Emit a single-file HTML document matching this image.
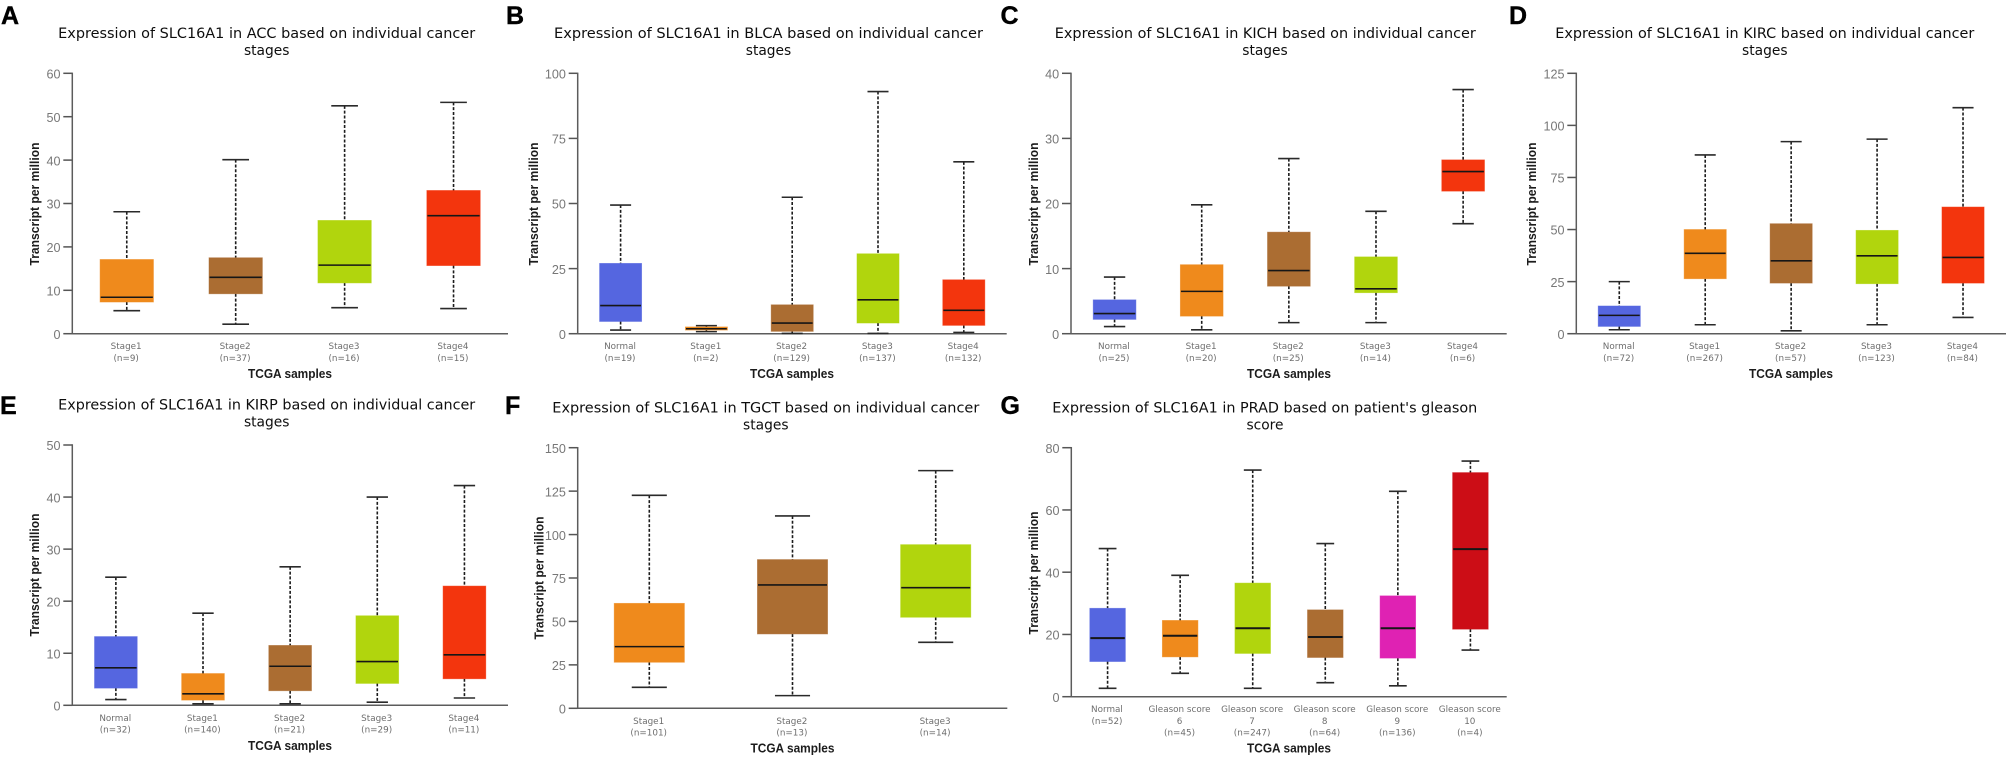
<!DOCTYPE html>
<html lang="en">
<head>
<meta charset="utf-8">
<title>Expression of SLC16A1 across TCGA cancers</title>
<style>
html,body{margin:0;padding:0;background:#fff;width:2008px;height:757px;overflow:hidden}
svg{display:block}
.letter{font:bold 25px "Liberation Sans",sans-serif;fill:#000;stroke:#000;stroke-width:.4}
.title{font:13.8px "DejaVu Sans",sans-serif;fill:#111;text-anchor:middle}
.ytitle{font:bold 13.2px "Liberation Sans",sans-serif;fill:#1a1a1a;text-anchor:middle}
.xtitle{font:bold 13.2px "Liberation Sans",sans-serif;fill:#1a1a1a;text-anchor:middle}
.tick{font:12.6px "Liberation Sans",sans-serif;fill:#777;text-anchor:end}
.cat{font:8.8px "DejaVu Sans",sans-serif;fill:#6e6e6e;text-anchor:middle}
</style>
</head>
<body>
<svg id="figure" xmlns="http://www.w3.org/2000/svg" width="2008" height="757" viewBox="0 0 2008 757" filter="url(#soft)">
<defs><filter id="soft" x="0" y="0" width="100%" height="100%"><feGaussianBlur stdDeviation="0.35"/></filter></defs>
<rect width="2008" height="757" fill="#fff"/>

<g id="panel-a">
<text class="letter" x="1" y="24">A</text>
<text class="title" x="266.7" y="38" textLength="417" lengthAdjust="spacingAndGlyphs">Expression of SLC16A1 in ACC based on individual cancer</text>
<text class="title" x="266.7" y="55">stages</text>
<text class="ytitle" transform="translate(39 204) rotate(-90)" textLength="123" lengthAdjust="spacingAndGlyphs">Transcript per million</text>
<text class="xtitle" x="290" y="378" textLength="84" lengthAdjust="spacingAndGlyphs">TCGA samples</text>
</g>
<g id="panel-b">
<text class="letter" x="506" y="24">B</text>
<text class="title" x="768.5" y="38" textLength="429" lengthAdjust="spacingAndGlyphs">Expression of SLC16A1 in BLCA based on individual cancer</text>
<text class="title" x="768.5" y="55">stages</text>
<text class="ytitle" transform="translate(538 204) rotate(-90)" textLength="123" lengthAdjust="spacingAndGlyphs">Transcript per million</text>
<text class="xtitle" x="792" y="378" textLength="84" lengthAdjust="spacingAndGlyphs">TCGA samples</text>
</g>
<g id="panel-c">
<text class="letter" x="1000.5" y="24">C</text>
<text class="title" x="1265.3" y="38" textLength="421" lengthAdjust="spacingAndGlyphs">Expression of SLC16A1 in KICH based on individual cancer</text>
<text class="title" x="1265" y="55">stages</text>
<text class="ytitle" transform="translate(1038 204) rotate(-90)" textLength="123" lengthAdjust="spacingAndGlyphs">Transcript per million</text>
<text class="xtitle" x="1289" y="378" textLength="84" lengthAdjust="spacingAndGlyphs">TCGA samples</text>
</g>
<g id="panel-d">
<text class="letter" x="1509" y="24">D</text>
<text class="title" x="1764.8" y="38" textLength="419" lengthAdjust="spacingAndGlyphs">Expression of SLC16A1 in KIRC based on individual cancer</text>
<text class="title" x="1764.8" y="55">stages</text>
<text class="ytitle" transform="translate(1536 204) rotate(-90)" textLength="123" lengthAdjust="spacingAndGlyphs">Transcript per million</text>
<text class="xtitle" x="1791" y="378" textLength="84" lengthAdjust="spacingAndGlyphs">TCGA samples</text>
</g>
<g id="panel-e">
<text class="letter" x="0" y="414">E</text>
<text class="title" x="266.7" y="409.7" textLength="417" lengthAdjust="spacingAndGlyphs">Expression of SLC16A1 in KIRP based on individual cancer</text>
<text class="title" x="266.7" y="426.7">stages</text>
<text class="ytitle" transform="translate(39 575) rotate(-90)" textLength="123" lengthAdjust="spacingAndGlyphs">Transcript per million</text>
<text class="xtitle" x="290" y="750" textLength="84" lengthAdjust="spacingAndGlyphs">TCGA samples</text>
</g>
<g id="panel-f">
<text class="letter" x="505" y="414">F</text>
<text class="title" x="765.8" y="412.3" textLength="427" lengthAdjust="spacingAndGlyphs">Expression of SLC16A1 in TGCT based on individual cancer</text>
<text class="title" x="765.8" y="429.5">stages</text>
<text class="ytitle" transform="translate(543.5 578) rotate(-90)" textLength="123" lengthAdjust="spacingAndGlyphs">Transcript per million</text>
<text class="xtitle" x="792.5" y="752.7" textLength="84" lengthAdjust="spacingAndGlyphs">TCGA samples</text>
</g>
<g id="panel-g">
<text class="letter" x="1000.5" y="414">G</text>
<text class="title" x="1264.8" y="412.3" textLength="425" lengthAdjust="spacingAndGlyphs">Expression of SLC16A1 in PRAD based on patient's gleason</text>
<text class="title" x="1265" y="429.5">score</text>
<text class="ytitle" transform="translate(1038 573) rotate(-90)" textLength="123" lengthAdjust="spacingAndGlyphs">Transcript per million</text>
<text class="xtitle" x="1289" y="752.7" textLength="84" lengthAdjust="spacingAndGlyphs">TCGA samples</text>
</g>
</svg>

<script>
// ---- Panel A: ACC ----
const accTicks = [0, 10, 20, 30, 40, 50, 60];
const accCategories = ["Stage1", "Stage2", "Stage3", "Stage4"];
const accCounts = ["(n=9)", "(n=37)", "(n=16)", "(n=15)"];
const accColors = ["#EF8A1D", "#AB6D33", "#B1D50F", "#F3360D"];
const accWhiskerLow = [5.3, 2.2, 6.0, 5.8];
const accQ1 = [7.3, 9.2, 11.7, 15.7];
const accMedian = [8.4, 13.0, 15.8, 27.2];
const accQ3 = [17.1, 17.5, 26.1, 33.0];
const accWhiskerHigh = [28.1, 40.1, 52.5, 53.3];

// ---- Panel B: BLCA ----
const blcaTicks = [0, 25, 50, 75, 100];
const blcaCategories = ["Normal", "Stage1", "Stage2", "Stage3", "Stage4"];
const blcaCounts = ["(n=19)", "(n=2)", "(n=129)", "(n=137)", "(n=132)"];
const blcaColors = ["#5566E0", "#EF8A1D", "#AB6D33", "#B1D50F", "#F3360D"];
const blcaWhiskerLow = [1.4, 0.8, 0.1, 0.1, 0.5];
const blcaQ1 = [4.7, 1.4, 0.9, 4.1, 3.2];
const blcaMedian = [10.8, 1.9, 4.1, 13.0, 9.0];
const blcaQ3 = [27.0, 2.6, 11.1, 30.7, 20.7];
const blcaWhiskerHigh = [49.4, 3.1, 52.4, 93.0, 66.0];

// ---- Panel C: KICH ----
const kichTicks = [0, 10, 20, 30, 40];
const kichCategories = ["Normal", "Stage1", "Stage2", "Stage3", "Stage4"];
const kichCounts = ["(n=25)", "(n=20)", "(n=25)", "(n=14)", "(n=6)"];
const kichColors = ["#5566E0", "#EF8A1D", "#AB6D33", "#B1D50F", "#F3360D"];
const kichWhiskerLow = [1.1, 0.6, 1.7, 1.7, 16.9];
const kichQ1 = [2.2, 2.7, 7.3, 6.3, 21.9];
const kichMedian = [3.1, 6.5, 9.7, 6.9, 24.9];
const kichQ3 = [5.2, 10.6, 15.6, 11.8, 26.7];
const kichWhiskerHigh = [8.7, 19.8, 26.9, 18.8, 37.5];

// ---- Panel D: KIRC ----
const kircTicks = [0, 25, 50, 75, 100, 125];
const kircCategories = ["Normal", "Stage1", "Stage2", "Stage3", "Stage4"];
const kircCounts = ["(n=72)", "(n=267)", "(n=57)", "(n=123)", "(n=84)"];
const kircColors = ["#5566E0", "#EF8A1D", "#AB6D33", "#B1D50F", "#F3360D"];
const kircWhiskerLow = [1.9, 4.3, 1.4, 4.3, 7.8];
const kircQ1 = [3.5, 26.4, 24.3, 24.0, 24.3];
const kircMedian = [8.8, 38.6, 35.0, 37.4, 36.6];
const kircQ3 = [13.3, 50.0, 52.8, 49.6, 60.8];
const kircWhiskerHigh = [25.0, 85.8, 92.2, 93.4, 108.5];

// ---- Panel E: KIRP ----
const kirpTicks = [0, 10, 20, 30, 40, 50];
const kirpCategories = ["Normal", "Stage1", "Stage2", "Stage3", "Stage4"];
const kirpCounts = ["(n=32)", "(n=140)", "(n=21)", "(n=29)", "(n=11)"];
const kirpColors = ["#5566E0", "#EF8A1D", "#AB6D33", "#B1D50F", "#F3360D"];
const kirpWhiskerLow = [1.1, 0.3, 0.3, 0.6, 1.4];
const kirpQ1 = [3.3, 1.0, 2.8, 4.2, 5.1];
const kirpMedian = [7.2, 2.2, 7.5, 8.4, 9.7];
const kirpQ3 = [13.2, 6.1, 11.5, 17.2, 22.9];
const kirpWhiskerHigh = [24.6, 17.7, 26.6, 40.0, 42.2];

// ---- Panel F: TGCT ----
const tgctTicks = [0, 25, 50, 75, 100, 125, 150];
const tgctCategories = ["Stage1", "Stage2", "Stage3"];
const tgctCounts = ["(n=101)", "(n=13)", "(n=14)"];
const tgctColors = ["#EF8A1D", "#AB6D33", "#B1D50F"];
const tgctWhiskerLow = [12.1, 7.3, 38.0];
const tgctQ1 = [26.5, 42.8, 52.4];
const tgctMedian = [35.5, 71.0, 69.4];
const tgctQ3 = [60.4, 85.6, 94.2];
const tgctWhiskerHigh = [122.6, 110.7, 136.8];

// ---- Panel G: PRAD ----
const pradTicks = [0, 20, 40, 60, 80];
const pradCategories = ["Normal", "Gleason score|6", "Gleason score|7", "Gleason score|8", "Gleason score|9", "Gleason score|10"];
const pradCounts = ["(n=52)", "(n=45)", "(n=247)", "(n=64)", "(n=136)", "(n=4)"];
const pradColors = ["#5566E0", "#EF8A1D", "#B1D50F", "#AB6D33", "#DF21B3", "#CC1019"];
const pradWhiskerLow = [2.7, 7.5, 2.7, 4.5, 3.5, 15.0];
const pradQ1 = [11.3, 12.8, 13.9, 12.6, 12.4, 21.7];
const pradMedian = [18.8, 19.6, 22.0, 19.2, 22.0, 47.4];
const pradQ3 = [28.4, 24.5, 36.5, 27.9, 32.4, 72.0];
const pradWhiskerHigh = [47.6, 39.0, 72.8, 49.2, 66.0, 75.7];

const SVGNS = "http://www.w3.org/2000/svg";

function svgEl(tag, attrs, parent) {
  const node = document.createElementNS(SVGNS, tag);
  for (const key in attrs) node.setAttribute(key, attrs[key]);
  parent.appendChild(node);
  return node;
}

function drawPanel(p) {
  const root = document.getElementById(p.id);
  const domainMax = p.ticks[p.ticks.length - 1];
  const yScale = function (v) { return p.y0 + (p.y1 - p.y0) * v / domainMax; };
  const band = (p.x1 - p.x0) / p.categories.length;
  const xScale = function (i) { return p.x0 + band * (i + 0.5); };
  const boxW = band * 0.49;
  const capW = band * 0.245;

  p.ticks.forEach(function (t) {
    const tickMark = svgEl("line", { x1: p.x0 - 9, x2: p.x0, y1: yScale(t), y2: yScale(t), stroke: "#555", "stroke-width": 1.5 }, root);
    
    
    const tickLabel = svgEl("text", { class: "tick", x: p.x0 - 11.8, y: yScale(t) + 5.2 }, root);
    
    
    tickLabel.textContent = String(t);
  });

  const yAxis = svgEl("line", { x1: p.x0, x2: p.x0, y1: p.y1 - 0.7, y2: p.y0 + 0.7, stroke: "#5c5c5c", "stroke-width": 1.5 }, root);
  
  
  const xAxis = svgEl("line", { x1: p.x0, x2: p.x1, y1: p.y0, y2: p.y0, stroke: "#5c5c5c", "stroke-width": 1.5 }, root);
  
  

  p.categories.forEach(function (cat, i) {
    const cx = xScale(i);
    const yq1 = yScale(p.q1[i]);
    const yq3 = yScale(p.q3[i]);
    const ymed = yScale(p.median[i]);
    const ylo = yScale(p.low[i]);
    const yhi = yScale(p.high[i]);

    const upperWhisker = svgEl("line", { x1: cx, x2: cx, y1: yhi, y2: yq3, stroke: "#1a1a1a", "stroke-width": 1.6, "stroke-dasharray": "3 1.8" }, root);
    
    
    const lowerWhisker = svgEl("line", { x1: cx, x2: cx, y1: yq1, y2: ylo, stroke: "#1a1a1a", "stroke-width": 1.6, "stroke-dasharray": "3 1.8" }, root);
    
    
    const upperCap = svgEl("line", { x1: cx - capW / 2, x2: cx + capW / 2, y1: yhi, y2: yhi, stroke: "#2a2a2a", "stroke-width": 1.6 }, root);
    
    
    const lowerCap = svgEl("line", { x1: cx - capW / 2, x2: cx + capW / 2, y1: ylo, y2: ylo, stroke: "#2a2a2a", "stroke-width": 1.6 }, root);
    
    

    const box = svgEl("rect", { x: cx - boxW / 2, y: yq3, width: boxW, height: Math.max(yq1 - yq3, 0.5), fill: p.colors[i], stroke: p.colors[i], "stroke-opacity": 0.6, "stroke-width": 0.8 }, root);
    
    
    const medianLine = svgEl("line", { x1: cx - boxW / 2 + 0.6, x2: cx + boxW / 2 - 0.6, y1: ymed, y2: ymed, stroke: "#141414", "stroke-width": p.medianWidth }, root);
    
    

    const lines = cat.split("|").concat([p.counts[i]]);
    lines.forEach(function (line, k) {
      const catLabel = svgEl("text", { class: "cat", x: cx - 0.6, y: p.y0 + 15.5 + k * 11.6 }, root);
      
      
      catLabel.textContent = line;
    });
  });
}

drawPanel({ id: "panel-a", x0: 72.3, x1: 508, y0: 333.7, y1: 73.3, ticks: accTicks, categories: accCategories, counts: accCounts, colors: accColors, low: accWhiskerLow, q1: accQ1, median: accMedian, q3: accQ3, high: accWhiskerHigh, medianWidth: 1.6 });
drawPanel({ id: "panel-b", x0: 577.7, x1: 1006.7, y0: 333.7, y1: 73.3, ticks: blcaTicks, categories: blcaCategories, counts: blcaCounts, colors: blcaColors, low: blcaWhiskerLow, q1: blcaQ1, median: blcaMedian, q3: blcaQ3, high: blcaWhiskerHigh, medianWidth: 1.6 });
drawPanel({ id: "panel-c", x0: 1071, x1: 1506.7, y0: 333.7, y1: 73.3, ticks: kichTicks, categories: kichCategories, counts: kichCounts, colors: kichColors, low: kichWhiskerLow, q1: kichQ1, median: kichMedian, q3: kichQ3, high: kichWhiskerHigh, medianWidth: 1.6 });
drawPanel({ id: "panel-d", x0: 1576.3, x1: 2006, y0: 333.7, y1: 73.3, ticks: kircTicks, categories: kircCategories, counts: kircCounts, colors: kircColors, low: kircWhiskerLow, q1: kircQ1, median: kircMedian, q3: kircQ3, high: kircWhiskerHigh, medianWidth: 1.6 });
drawPanel({ id: "panel-e", x0: 72.3, x1: 508, y0: 705.3, y1: 445, ticks: kirpTicks, categories: kirpCategories, counts: kirpCounts, colors: kirpColors, low: kirpWhiskerLow, q1: kirpQ1, median: kirpMedian, q3: kirpQ3, high: kirpWhiskerHigh, medianWidth: 1.6 });
drawPanel({ id: "panel-f", x0: 577.7, x1: 1007.3, y0: 708.3, y1: 447.7, ticks: tgctTicks, categories: tgctCategories, counts: tgctCounts, colors: tgctColors, low: tgctWhiskerLow, q1: tgctQ1, median: tgctMedian, q3: tgctQ3, high: tgctWhiskerHigh, medianWidth: 1.6 });
drawPanel({ id: "panel-g", x0: 1071.3, x1: 1506.7, y0: 696.7, y1: 447.7, ticks: pradTicks, categories: pradCategories, counts: pradCounts, colors: pradColors, low: pradWhiskerLow, q1: pradQ1, median: pradMedian, q3: pradQ3, high: pradWhiskerHigh, medianWidth: 2 });
</script>
</body>
</html>
